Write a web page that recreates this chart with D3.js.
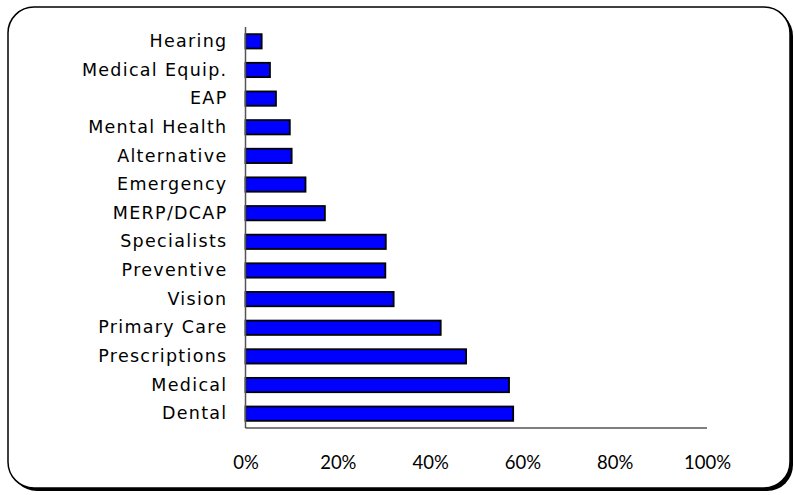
<!DOCTYPE html>
<html>
<head>
<meta charset="utf-8">
<script src="https://cdn.jsdelivr.net/npm/d3@7"></script>
<style>
html,body{margin:0;padding:0;background:#fff;}
svg{display:block;}
</style>
</head>
<body>
<svg id="chart" width="794" height="495"></svg>
<script>
const categories = ["Hearing","Medical Equip.","EAP","Mental Health","Alternative","Emergency","MERP/DCAP","Specialists","Preventive","Vision","Primary Care","Prescriptions","Medical","Dental"];
const values = [3.5, 5.3, 6.6, 9.6, 10.0, 13.0, 17.2, 30.4, 30.3, 32.1, 42.3, 47.8, 57.1, 58.0];
const tickValues = [0, 20, 40, 60, 80, 100];
const tickLabels = ["0%","20%","40%","60%","80%","100%"];

const svg = d3.select("#chart");
const labelFont = "'DejaVu Sans',sans-serif";
const tickFont = "Lato, 'Open Sans', sans-serif";

// frame with shadow
svg.append("rect").attr("x", 11).attr("y", 10).attr("width", 782).attr("height", 481)
  .attr("rx", 26).attr("fill", "#000");
svg.append("rect").attr("x", 8).attr("y", 7).attr("width", 782).attr("height", 481)
  .attr("rx", 26).attr("fill", "#fff").attr("stroke", "#000").attr("stroke-width", 1.5);

const x = d3.scaleLinear().domain([0, 100]).range([245.5, 707]);
const y = d3.scaleBand().domain(categories).range([27, 428]).paddingInner(0.5).paddingOuter(0.25);

// bars
svg.append("g").selectAll("rect").data(categories).join("rect")
  .attr("x", x(0))
  .attr("y", d => y(d))
  .attr("width", (d, i) => x(values[i]) - x(0))
  .attr("height", y.bandwidth())
  .attr("fill", "#0000ff")
  .attr("stroke", "#000")
  .attr("stroke-width", 1.8);

// y axis
const yAxis = svg.append("g").attr("transform", `translate(${x(0)},0)`)
  .call(d3.axisLeft(y).tickSize(0).tickPadding(18));
yAxis.select(".domain").attr("stroke", "#555").attr("stroke-width", 1.5).attr("d", `M0,27V428`);
yAxis.selectAll("text").attr("font-family", labelFont).attr("font-size", 17.5)
  .attr("letter-spacing", 1.3).attr("fill", "#000");

// x axis
const xAxis = svg.append("g").attr("transform", `translate(0,428)`)
  .call(d3.axisBottom(x).tickValues(tickValues).tickFormat((d, i) => tickLabels[i]).tickSize(0).tickPadding(28));
xAxis.select(".domain").attr("stroke", "#000").attr("stroke-width", 1.2).attr("d", `M${x(0)},0H${x(100)}`);
xAxis.selectAll("text").attr("font-family", tickFont).attr("font-size", 18.5).attr("fill", "#000");
</script>
</body>
</html>
